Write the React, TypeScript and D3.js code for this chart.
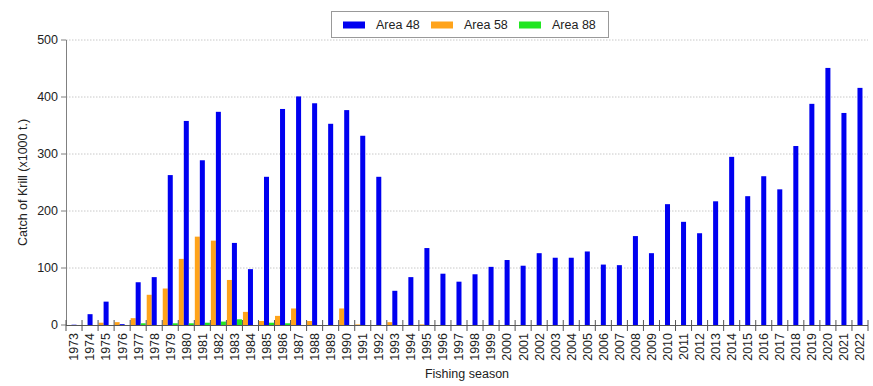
import React from "react";
import * as d3 from "d3";

const seasons: string[] = d3.range(1973, 2023).map(String);

const area48: number[] = [
  0.5, 19, 41, 1.5, 75, 84, 263, 358, 289, 374,
  144, 98, 260, 379, 401, 389, 353, 377, 332, 260,
  60, 84, 135, 90, 76, 89, 102, 114, 104, 126,
  118, 118, 129, 106, 105, 156, 126, 212, 181, 161,
  217, 295, 226, 261, 238, 314, 388, 451, 372, 416,
];

const area58: number[] = [
  0, 0, 4, 5, 12, 53, 64, 116, 155, 148,
  79, 23, 7, 16, 29, 7, 0, 29, 1, 0,
  5, 0, 1, 0, 0, 0, 0, 0, 0, 0,
  0, 0, 0, 0, 0, 0, 0, 0, 0, 0,
  0, 0, 0, 0, 0, 0, 0, 0, 0, 0,
];

const area88: number[] = [
  0, 0, 0, 0, 3, 0, 3, 3, 4, 6,
  10, 0, 4, 3, 0, 0, 0, 0, 0, 0,
  0, 0, 0, 0, 0, 0, 0, 0, 0, 0,
  0, 0, 0, 0, 0, 0, 0, 0, 0, 0,
  0, 0, 0, 0, 0, 0, 0, 0, 0, 0,
];

const yTicks: number[] = [0, 100, 200, 300, 400, 500];

const seriesNames = ["Area 48", "Area 58", "Area 88"];
const seriesColors: Record<string, string> = {
  "Area 48": "#0000f0",
  "Area 58": "#ffa31a",
  "Area 88": "#22e622",
};
const seriesValues: Record<string, number[]> = {
  "Area 48": area48,
  "Area 58": area58,
  "Area 88": area88,
};
// order of bars within each season group, as drawn
const groupOrder = ["Area 58", "Area 48", "Area 88"];

const W = 873;
const H = 386;
const M = { left: 66, right: 5, top: 40, bottom: 61 };
const FONT = "'Liberation Sans', Arial, sans-serif";

export default function App() {
  const x = d3
    .scaleBand<string>()
    .domain(seasons)
    .range([M.left, W - M.right])
    .paddingInner(0)
    .paddingOuter(0);
  const inner = d3
    .scaleBand<string>()
    .domain(groupOrder)
    .range([0, x.bandwidth()])
    .paddingOuter(0.1)
    .paddingInner(0);
  const y = d3.scaleLinear().domain([0, 500]).range([H - M.bottom, M.top]);
  const y0 = y(0);
  const x0 = M.left;
  const x1 = W - M.right;

  const boundaries = seasons.map((s) => x(s)!).concat([x(seasons[seasons.length - 1])! + x.bandwidth()]);

  return (
    <svg
      width={W}
      height={H}
      style={{ position: "absolute", left: 0, top: 0, background: "#fff" }}
      fontFamily={FONT}
    >
      {/* gridlines */}
      {yTicks.filter((t) => t > 0).map((t) => (
        <line
          key={"g" + t}
          x1={x0}
          x2={x1}
          y1={y(t)}
          y2={y(t)}
          stroke="#c8c8c8"
          strokeWidth={1}
          strokeDasharray="1.5,1.5"
        />
      ))}

      {/* bars */}
      {seasons.map((s, i) =>
        groupOrder.map((name) => {
          const v = seriesValues[name][i];
          if (!v) return null;
          const bx = x(s)! + inner(name)!;
          return (
            <rect
              key={s + name}
              x={bx}
              y={y(v)}
              width={inner.bandwidth()}
              height={y0 - y(v)}
              fill={seriesColors[name]}
            />
          );
        })
      )}

      {/* y axis */}
      <line x1={x0 + 0.5} x2={x0 + 0.5} y1={y(500)} y2={y0} stroke="#808080" strokeWidth={1} />
      {yTicks.map((t) => (
        <g key={"y" + t}>
          <line x1={x0 - 5} x2={x0} y1={y(t)} y2={y(t)} stroke="#808080" />
          <text
            x={x0 - 8}
            y={y(t)}
            dy="0.35em"
            textAnchor="end"
            fontSize={12.5}
            fill="#222"
          >
            {t}
          </text>
        </g>
      ))}

      {/* x axis */}
      <line x1={x0} x2={x1} y1={y0 + 0.5} y2={y0 + 0.5} stroke="#555" strokeWidth={1} />
      {boundaries.map((bx, i) => (
        <line key={"t" + i} x1={bx} x2={bx} y1={y0 - 5} y2={y0 + 6} stroke="#555" />
      ))}
      {seasons.map((s) => {
        const cx = x(s)! + x.bandwidth() / 2;
        return (
          <text
            key={"l" + s}
            transform={`translate(${cx},${y0 + 8}) rotate(-90)`}
            textAnchor="end"
            dy="0.35em"
            fontSize={12.5}
            fill="#222"
          >
            {s}
          </text>
        );
      })}

      {/* axis titles */}
      <text
        transform={`translate(${23},${(y(500) + y0) / 2}) rotate(-90)`}
        textAnchor="middle"
        dy="0.35em"
        fontSize={12.5}
        fill="#222"
      >
        Catch of Krill (x1000 t.)
      </text>
      <text x={(x0 + x1) / 2} y={378} textAnchor="middle" fontSize={12.5} fill="#222">
        Fishing season
      </text>

      {/* legend */}
      <g>
        <rect x={331.5} y={11.5} width={277} height={26} fill="#fff" stroke="#999" />
        {seriesNames.map((n, i) => {
          const lx = [343, 431, 519][i];
          return (
            <g key={"lg" + n}>
              <rect x={lx} y={21.5} width={22} height={7} fill={seriesColors[n]} />
              <text x={lx + 33} y={25} dy="0.35em" fontSize={12.5} fill="#222">
                {n}
              </text>
            </g>
          );
        })}
      </g>
    </svg>
  );
}
